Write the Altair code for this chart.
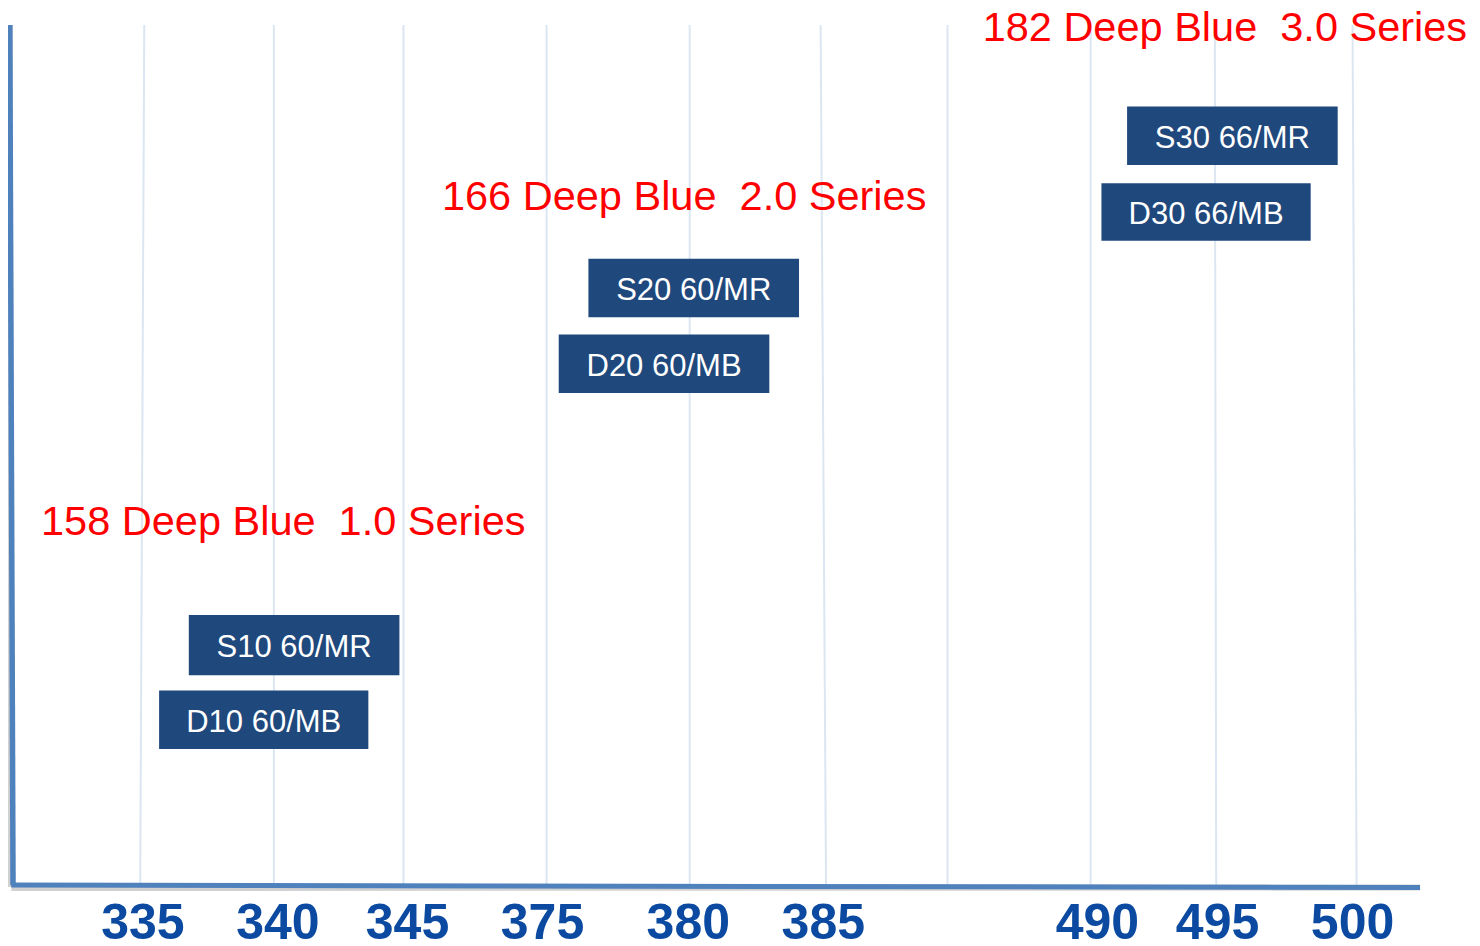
import altair as alt
import pandas as pd

# ---- data ----
tick_labels = ["335", "340", "345", "375", "380", "385", "", "490", "495", "500"]
grid_bottom = [1.00, 1.99, 2.95, 4.01, 5.07, 6.08, 6.98, 8.04, 8.97, 10.01]
grid_top = [1.03, 1.99, 2.95, 4.01, 5.07, 6.04, 6.98, 8.04, 8.96, 9.98]
label_pos = [1.02, 2.02, 2.98, 3.98, 5.06, 6.06, None, 8.09, 8.98, 9.98]

box_names = ["S30 66/MR", "D30 66/MB", "S20 60/MR", "D20 60/MB", "S10 60/MR", "D10 60/MB"]
box_x0 = [8.31, 8.12, 4.32, 4.10, 1.36, 1.14]
box_x1 = [9.87, 9.67, 5.88, 5.66, 2.92, 2.69]
box_y0 = [83.7, 74.9, 66.0, 57.2, 24.4, 15.8]
box_y1 = [90.5, 81.6, 72.8, 64.0, 31.4, 22.6]

series_names = ["182 Deep Blue \u00a03.0 Series", "166 Deep Blue \u00a02.0 Series", "158 Deep Blue \u00a01.0 Series"]
series_x = [7.24, 3.235, 0.265]
series_y = [99.5, 79.9, 42.1]

axis_top = 100.0
# y axis: bottom and top ends (slightly slanted in the reference)
yaxis_x_bottom, yaxis_x_top = 0.058, 0.034
# x axis: left and right ends
xaxis_x_left, xaxis_x_right = 0.045, 10.48
xaxis_y_left, xaxis_y_right = 0.0, -0.3

FONT = "Liberation Sans"
W, H = 1454, 873
xs = alt.Scale(domain=[0.08, 10.85], nice=False, zero=False)
ys = alt.Scale(domain=[0, 101.5], nice=False, zero=False)

grid_df = pd.DataFrame({"x": grid_bottom, "x2": grid_top, "y": 0.0, "y2": axis_top})
tick_df = pd.DataFrame({"x": label_pos, "label": tick_labels, "y": 0.0})
tick_df = tick_df[tick_df["label"] != ""]
box_df = pd.DataFrame({"name": box_names, "x0": box_x0, "x1": box_x1, "y0": box_y0, "y1": box_y1})
box_df["xm"] = (box_df["x0"] + box_df["x1"]) / 2
box_df["ym"] = (box_df["y0"] + box_df["y1"]) / 2
ser_df = pd.DataFrame({"name": series_names, "x": series_x, "y": series_y})
yaxis_df = pd.DataFrame({"x": [yaxis_x_bottom], "x2": [yaxis_x_top], "y": [xaxis_y_left], "y2": [axis_top]})
xaxis_df = pd.DataFrame({"x": [xaxis_x_left], "x2": [xaxis_x_right], "y": [xaxis_y_left], "y2": [xaxis_y_right]})


def seg(df, **kw):
    return alt.Chart(df).mark_rule(**kw).encode(
        x=alt.X("x:Q", scale=xs, axis=None), x2="x2:Q",
        y=alt.Y("y:Q", scale=ys, axis=None), y2="y2:Q")


grid = seg(grid_df, color="#DCE6F2", strokeWidth=2)
yshadow = seg(yaxis_df, color="#999999", opacity=0.45, strokeWidth=6, xOffset=-2, yOffset=2)
xshadow = seg(xaxis_df, color="#999999", opacity=0.45, strokeWidth=6, yOffset=3)
yaxis = seg(yaxis_df, color="#4F81BD", strokeWidth=5.5)
xaxis = seg(xaxis_df, color="#4F81BD", strokeWidth=5)

boxes = alt.Chart(box_df).mark_rect(color="#1F487C").encode(
    x=alt.X("x0:Q", scale=xs, axis=None), x2="x1:Q",
    y=alt.Y("y0:Q", scale=ys, axis=None), y2="y1:Q")
box_text = alt.Chart(box_df).mark_text(color="white", font=FONT, fontSize=31, align="center", baseline="middle", dy=3).encode(
    x=alt.X("xm:Q", scale=xs, axis=None), y=alt.Y("ym:Q", scale=ys, axis=None), text="name:N")

ser_text = alt.Chart(ser_df).mark_text(color="#FF0000", font=FONT, fontSize=41.5, align="left", baseline="middle").encode(
    x=alt.X("x:Q", scale=xs, axis=None), y=alt.Y("y:Q", scale=ys, axis=None), text="name:N")

tick_text = alt.Chart(tick_df).mark_text(color="#0B4AA0", font=FONT, fontSize=50, fontWeight="bold",
                                         align="center", baseline="alphabetic", dy=54).encode(
    x=alt.X("x:Q", scale=xs, axis=None), y=alt.Y("y:Q", scale=ys, axis=None), text="label:N")

chart = alt.layer(grid, yshadow, xshadow, yaxis, xaxis, boxes, box_text, ser_text, tick_text).properties(
    width=W, height=H, autosize=alt.AutoSizeParams(type="none"), background="white",
    padding={"left": 8, "top": 4, "right": 2, "bottom": 58},
).configure_view(strokeWidth=0, stroke="transparent")

chart.save("out.html", embed_options={"renderer": "svg", "actions": False})
